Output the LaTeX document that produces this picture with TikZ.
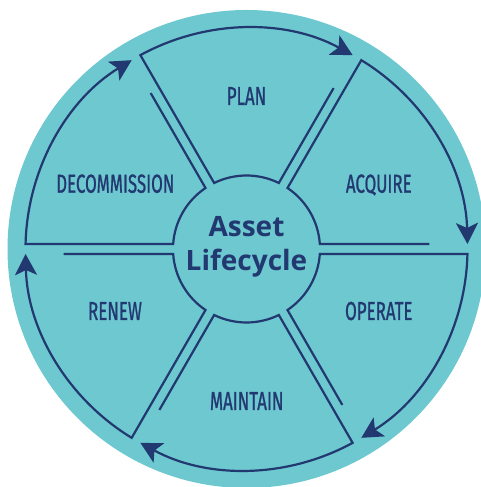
\documentclass[tikz,border=0pt]{standalone}
\usepackage{fontspec}
\newfontfamily\labelfont{Fira Sans}[FakeBold=1.2]
\newfontfamily\titlefont{Open Sans}
\usetikzlibrary{arrows.meta}
\definecolor{wheelteal}{RGB}{110,200,207}
\definecolor{wheelnavy}{RGB}{34,56,112}
\newcommand\drawsector[1]{%
  \pgfmathsetmacro\aT{#1-60}%
  \draw[sectorline] (\aT+1.57:183) -- (\aT+3.9:73.5)
    arc[start angle=\aT+3.9, end angle=#1-3.9, radius=73.5]
    -- (#1-1.3:221)
    arc[start angle=#1-1.3, end angle=\aT+1.3, radius=221];%
}
\begin{document}
\begin{tikzpicture}[x=1pt,y=1pt,
  sectorline/.style={draw=wheelnavy, line width=2.2pt, line join=miter,
    -{Stealth[length=21pt,width=22pt,inset=5pt]}},
  lbl/.style={text=wheelnavy, font=\labelfont\fontsize{26}{26}\selectfont,
    anchor=base, inner sep=0pt}]
\useasboundingbox (0,0) rectangle (481,487);
\clip (0,0) rectangle (481,487);
\fill[wheelteal] (246.5,238) circle (239);
\begin{scope}[shift={(246.5,238)}]
  \drawsector{120}
  \drawsector{60}
  \drawsector{0}
  \drawsector{-60}
  \drawsector{-120}
  \drawsector{180}
\end{scope}
\node[lbl] (plan) at (246.5,382) {\scalebox{0.65}[1]{PLAN}};
\node[lbl] (acquire) at (378.8,294.3) {\scalebox{0.65}[1]{ACQUIRE}};
\node[lbl] (decommission) at (115.3,294.3) {\scalebox{0.65}[1]{DECOMMISSION}};
\node[lbl] (renew) at (115,167) {\scalebox{0.65}[1]{RENEW}};
\node[lbl] (operate) at (378.8,167) {\scalebox{0.65}[1]{OPERATE}};
\node[lbl] (maintain) at (246.7,77) {\scalebox{0.65}[1]{MAINTAIN}};
\node[text=wheelnavy, font=\titlefont\bfseries\fontsize{28}{34}\selectfont,
  align=center, inner sep=0pt, anchor=north] (title) at (246.5,271) {Asset\\Lifecycle};
\end{tikzpicture}
\end{document}
